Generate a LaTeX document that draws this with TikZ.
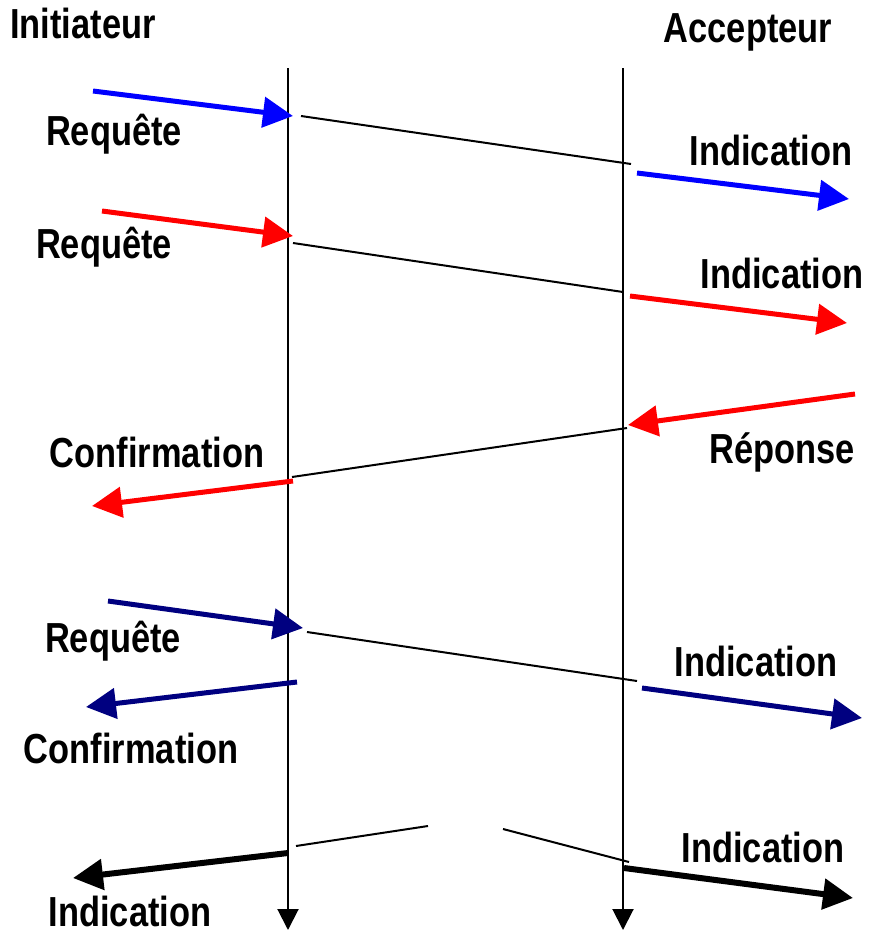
\documentclass[tikz,border=0pt]{standalone}
\usepackage{fontspec}
\newfontfamily\lblfont{Liberation Sans}[FakeStretch=0.82]
\usepackage{tikz}
\usetikzlibrary{arrows.meta}

\definecolor{bleu}{RGB}{0,0,255}
\definecolor{rouge}{RGB}{255,0,0}
\definecolor{marine}{RGB}{0,0,128}

\tikzset{
    vie/.style={line width=0.4mm, -{Triangle[length=4.2mm,width=4.2mm]}},
    lien/.style={line width=0.4mm},
    prim/.style={line width=1mm, -{Triangle[length=6mm,width=6mm]}},
    primnoir/.style={line width=1.2mm, -{Triangle[length=6mm,width=6mm]}},
    lbl/.style={anchor=base, inner sep=0pt, font=\lblfont\bfseries\fontsize{23.9}{28}\selectfont}
}

\begin{document}
\begin{tikzpicture}[x=0.02cm,y=-0.02cm]
    \useasboundingbox (0,0) rectangle (869,933);

    \node[lbl] (init) at (83,38) {Initiateur};
    \node[lbl] (acc) at (748,42) {Accepteur};

    \coordinate (i0) at (288,68);
    \coordinate (i1) at (288,930);
    \coordinate (a0) at (623,68);
    \coordinate (a1) at (623,930);
    \draw[vie] (i0) -- (i1);
    \draw[vie] (a0) -- (a1);

    % premier echange
    \coordinate (p1) at (93,91);   \coordinate (p2) at (293,116);
    \coordinate (p3) at (301,116); \coordinate (p4) at (631,164);
    \coordinate (p5) at (637,173); \coordinate (p6) at (849,199);
    \draw[prim, bleu] (p1) -- (p2);
    \draw[lien] (p3) -- (p4);
    \draw[prim, bleu] (p5) -- (p6);
    \node[lbl] (req1) at (114,145) {Requête};
    \node[lbl] (ind1) at (771,165) {Indication};

    % deuxieme echange
    \coordinate (q1) at (102,211); \coordinate (q2) at (293,236);
    \coordinate (q3) at (293,243); \coordinate (q4) at (623,292);
    \coordinate (q5) at (630,296); \coordinate (q6) at (847,323);
    \draw[prim, rouge] (q1) -- (q2);
    \draw[lien] (q3) -- (q4);
    \draw[prim, rouge] (q5) -- (q6);
    \node[lbl] (req2) at (104,258) {Requête};
    \node[lbl] (ind2) at (782,288) {Indication};

    \coordinate (r1) at (855,394); \coordinate (r2) at (628,425);
    \coordinate (r3) at (627,428); \coordinate (r4) at (292,477);
    \coordinate (r5) at (293,481); \coordinate (r6) at (92,506);
    \draw[prim, rouge] (r1) -- (r2);
    \draw[lien] (r3) -- (r4);
    \draw[prim, rouge] (r5) -- (r6);
    \node[lbl] (rep) at (782,463) {Réponse};
    \node[lbl] (conf1) at (157,467) {Confirmation};

    % troisieme echange
    \coordinate (s1) at (108,601); \coordinate (s2) at (303,628);
    \coordinate (s3) at (307,632); \coordinate (s4) at (637,681);
    \coordinate (s5) at (642,688); \coordinate (s6) at (862,718);
    \coordinate (s7) at (297,682); \coordinate (s8) at (86,707);
    \draw[prim, marine] (s1) -- (s2);
    \draw[lien] (s3) -- (s4);
    \draw[prim, marine] (s5) -- (s6);
    \draw[prim, marine] (s7) -- (s8);
    \node[lbl] (req3) at (113,652) {Requête};
    \node[lbl] (ind3) at (756,676) {Indication};
    \node[lbl] (conf2) at (131,763) {Confirmation};

    % quatrieme echange
    \coordinate (t1) at (296,846); \coordinate (t2) at (428,826);
    \coordinate (t3) at (503,829); \coordinate (t4) at (629,862);
    \coordinate (t5) at (288,853); \coordinate (t6) at (73,878);
    \coordinate (t7) at (624,868); \coordinate (t8) at (853,898);
    \draw[lien] (t1) -- (t2);
    \draw[lien] (t3) -- (t4);
    \draw[primnoir] (t5) -- (t6);
    \draw[primnoir] (t7) -- (t8);
    \node[lbl] (ind4) at (763,862) {Indication};
    \node[lbl] (ind5) at (130,926) {Indication};
\end{tikzpicture}
\end{document}
